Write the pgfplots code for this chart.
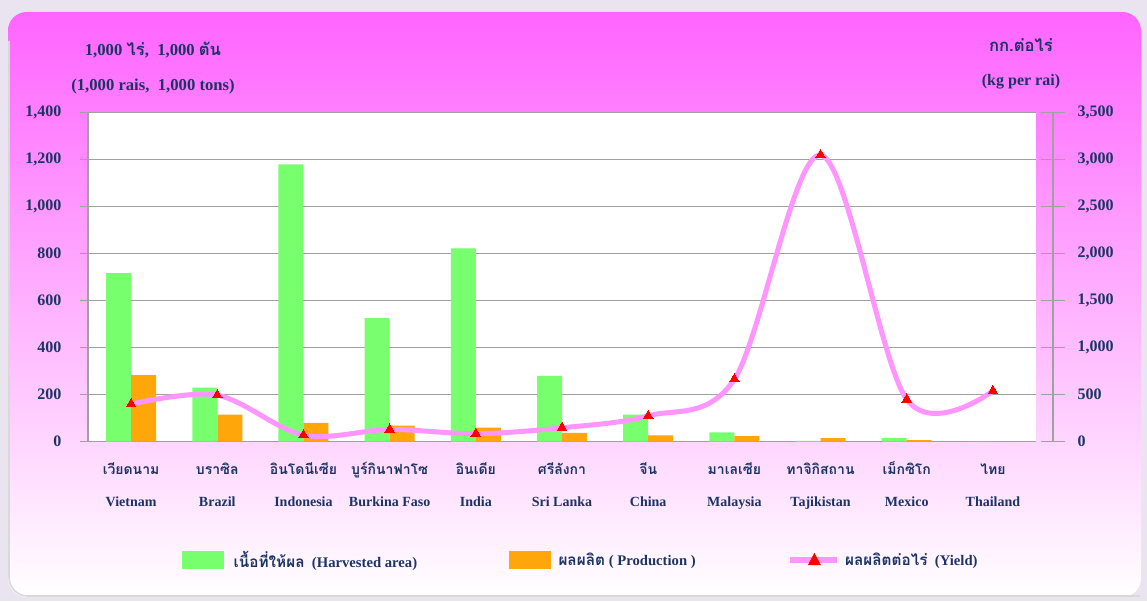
\documentclass[border=0pt]{standalone}
\usepackage{fontspec}
\setmainfont{Liberation Serif}
\newfontfamily\thai[Script=Thai]{Loma}
\usepackage{pgfplots}
\usepackage{pgfplotstable}
\pgfplotsset{compat=1.18}
\definecolor{navy}{RGB}{28,52,100}
\definecolor{barG}{RGB}{119,255,110}
\definecolor{barO}{RGB}{255,166,10}
\definecolor{lineP}{RGB}{255,150,255}
\definecolor{gridG}{RGB}{160,160,160}
\definecolor{outerBG}{RGB}{233,228,239}
\definecolor{panelTop}{RGB}{255,100,255}
\definecolor{panelMid}{RGB}{255,180,255}

\pgfplotstableread{
x area prod yield
0 717 283 400
1 230 115 495
2 1180 80 70
3 526 68 130
4 823 60 85
5 280 38 148
6 115 27 275
7 40 24 665
8 3 15 3050
9 16 7 450
10 0 0 540
}\datatable

\newcommand\cl[2]{{\thai\bfseries\fontsize{10.5}{12}\selectfont\smash{#1}\rule[-4pt]{0pt}{12pt}}\\[12pt]{\bfseries\fontsize{10.5}{12}\selectfont\smash{#2}\rule[-2.5pt]{0pt}{10pt}}}

\begin{document}
\begin{tikzpicture}[x=0.75pt,y=0.75pt]
\fill[outerBG] (0,0) rectangle (1147,601);
\path[use as bounding box] (0,0) rectangle (1147,601);
\shade[top color=panelTop, middle color=panelMid, bottom color=white, rounded corners=14pt] (8,4) rectangle (1141,589);
\draw[gray!30, line width=1.2pt, rounded corners=14pt] (9,560) -- (9,5) -- (1140,5);

\node[text=navy, font=\fontsize{12.5}{14}\selectfont\bfseries] at (153,551) {1,000 {\thai ไร่}, \ 1,000 {\thai ตัน}};
\node[text=navy, font=\fontsize{12.5}{14}\selectfont\bfseries] at (153,515) {(1,000 rais, \ 1,000 tons)};
\node[text=navy, font=\fontsize{12.5}{14}\selectfont\bfseries] at (1021,556) {\thai กก.ต่อไร่};
\node[text=navy, font=\fontsize{12}{14}\selectfont\bfseries] at (1021,519) {(kg per rai)};

\begin{axis}[
  at={(66pt,119.475pt)}, anchor=south west,
  scale only axis, width=711pt, height=246.75pt,
  xmin=-0.5, xmax=10.5, ymin=0, ymax=1400,
  ytick={0,200,...,1400},
  xtick={0,...,10},
  xticklabels={\cl{เวียดนาม}{Vietnam},\cl{บราซิล}{Brazil},\cl{อินโดนีเซีย}{Indonesia},\cl{บูร์กินาฟาโซ}{Burkina Faso},\cl{อินเดีย}{India},\cl{ศรีลังกา}{Sri Lanka},\cl{จีน}{China},\cl{มาเลเซีย}{Malaysia},\cl{ทาจิกิสถาน}{Tajikistan},\cl{เม็กซิโก}{Mexico},\cl{ไทย}{Thailand}},
  xticklabel style={align=center, text=navy, yshift=-7pt},
  axis y line*=left, axis x line*=bottom,
  x axis line style={draw=none}, xtick style={draw=none},
  y axis line style={gridG, line width=1pt},
  ytick style={gridG, line width=1pt},
  tick align=outside, major tick length=6pt,
  ymajorgrids, major grid style={gridG, line width=1.1pt},
  axis background/.style={fill=white},
  ybar=0pt, bar width=0.29,
  yticklabel style={font=\fontsize{12}{14}\selectfont\bfseries, text=navy, /pgf/number format/1000 sep={,}, /pgf/number format/assume math mode=true, xshift=-10.5pt},
  legend columns=3,
  legend style={at={(0.520,-0.36)}, anchor=center, draw=none, fill=none, text=navy,
    font=\fontsize{11}{13}\selectfont\bfseries,
    /tikz/every even column/.append style={column sep=67pt}},
  clip=false,
]
\addplot[fill=barG, draw=none, legend image code/.code={\fill[barG] (0pt,-7pt) rectangle (32pt,7pt); \path[draw=none,fill=none] (0pt,0pt) -- (37pt,0pt);}] table[x=x,y=area]{\datatable};
\addlegendentry{{\thai\fontsize{11.5}{13}\selectfont เนื้อที่ให้ผล} \ (Harvested area)}
\addplot[fill=barO, draw=none, legend image code/.code={\fill[barO] (0pt,-7pt) rectangle (31pt,7pt); \path[draw=none,fill=none] (0pt,0pt) -- (35pt,0pt);}] table[x=x,y=prod]{\datatable};
\addlegendentry{{\thai\fontsize{11.5}{13}\selectfont ผลผลิต} ( Production )}
\addlegendimage{legend image code/.code={\draw[lineP, line width=4pt] (0pt,0pt) -- (35pt,0pt); \fill[red] (18pt,5pt) -- (22.5pt,-3.5pt) -- (13.5pt,-3.5pt) -- cycle; \path[draw=none,fill=none] (0pt,0pt) -- (39pt,0pt);}}
\addlegendentry{{\thai\fontsize{11.5}{13}\selectfont ผลผลิตต่อไร่} \ (Yield)}
\end{axis}

\begin{axis}[
  at={(66pt,119.475pt)}, anchor=south west,
  scale only axis, width=723.75pt, height=246.75pt,
  xmin=-0.5, xmax=10.697, ymin=0, ymax=3500,
  axis x line=none, axis y line*=right,
  ytick={0,500,...,3500},
  y axis line style={gridG, line width=1pt},
  ytick style={gridG, line width=1pt},
  tick align=center, major tick length=18pt,
  yticklabel style={font=\fontsize{12}{14}\selectfont\bfseries, text=navy, /pgf/number format/1000 sep={,}, /pgf/number format/assume math mode=true, anchor=west, xshift=6pt},
  clip=false,
]
\addplot[lineP, line width=3.75pt, smooth, tension=0.55, mark=triangle*, mark size=4.2pt, mark options={fill=red, draw=red, line width=0pt}] table[x=x,y=yield]{\datatable};
\end{axis}
\end{tikzpicture}
\end{document}
